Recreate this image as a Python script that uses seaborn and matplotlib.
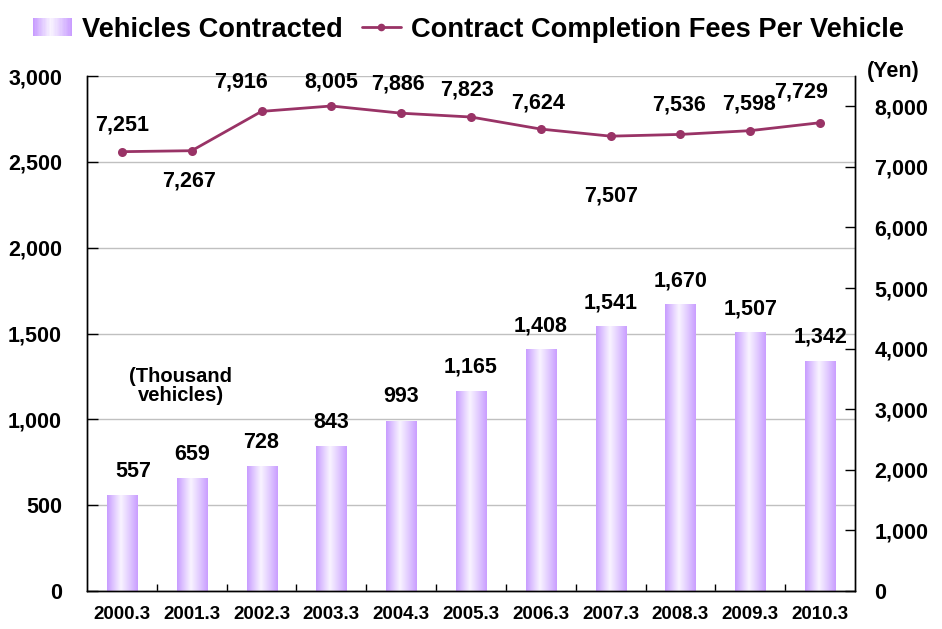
import numpy as np
import pandas as pd
import matplotlib
matplotlib.use("Agg")
import matplotlib.pyplot as plt
from matplotlib.colors import LinearSegmentedColormap
from matplotlib.legend_handler import HandlerBase
from matplotlib.patches import Rectangle
from matplotlib.lines import Line2D
import seaborn as sns

# Fiscal year-end labels
years = ["2000.3", "2001.3", "2002.3", "2003.3", "2004.3", "2005.3",
         "2006.3", "2007.3", "2008.3", "2009.3", "2010.3"]
# Vehicles contracted (thousand vehicles)
vehicles = [557, 659, 728, 843, 993, 1165, 1408, 1541, 1670, 1507, 1342]
# Contract completion fees per vehicle (yen)
fees = [7251, 7267, 7916, 8005, 7886, 7823, 7624, 7507, 7536, 7598, 7729]
left_ticks = [0, 500, 1000, 1500, 2000, 2500, 3000]
right_ticks = [0, 1000, 2000, 3000, 4000, 5000, 6000, 7000, 8000]

LINE_COLOR = "#993366"
bar_grad = LinearSegmentedColormap.from_list(
    "bar_grad",
    [(0.0, "#C79BFF"), (0.22, "#E0C8FF"), (0.45, "#F9F4FF"),
     (0.72, "#E2CCFF"), (1.0, "#C99DFF")])

sns.set_theme(style="white")
plt.rcParams["font.family"] = ["Liberation Sans", "DejaVu Sans"]
plt.rcParams["font.weight"] = "bold"
for key in ["text.color", "axes.labelcolor", "xtick.color", "ytick.color"]:
    plt.rcParams[key] = "black"

fig = plt.figure(figsize=(9.42, 6.29), dpi=100)
ax = fig.add_axes([87 / 942, 38 / 629, 768 / 942, 515 / 629])

df = pd.DataFrame({"year": years, "vehicles": vehicles, "fee": fees})
sns.barplot(data=df, x="year", y="vehicles", width=0.43, color="#CC99FF",
            saturation=1, ax=ax, zorder=2)

# Horizontal white-to-violet gradient inside every bar
grad_img = np.linspace(0, 1, 256).reshape(1, -1)
for p in list(ax.patches):
    x0, w, h = p.get_x(), p.get_width(), p.get_height()
    im = ax.imshow(grad_img, cmap=bar_grad, aspect="auto",
                   extent=[x0, x0 + w, 0, h], zorder=2, interpolation="bicubic")
    im.set_clip_path(p)
    p.set_facecolor("none")
    p.set_edgecolor("none")

ax.set_xlim(-0.5, len(years) - 0.5)
ax.set_ylim(0, 3000)
ax.set_yticks(left_ticks)
ax.set_yticklabels([f"{v:,}" for v in left_ticks])
ax.set_xlabel("")
ax.set_ylabel("")
ax.yaxis.grid(True, color="#C0C0C0", lw=1)
ax.xaxis.grid(False)
ax.set_axisbelow(True)

ax.set_xticks(np.arange(0.5, len(years) - 1, 1), minor=True)
ax.tick_params(axis="x", which="major", length=0, pad=11, labelsize=13.5,
               labelcolor="black")
ax.tick_params(axis="x", which="minor", bottom=True, direction="in",
               length=5, width=1, color="black")
ax.tick_params(axis="y", left=True, direction="in", length=8, width=1,
               color="black", pad=18, labelsize=15.5, labelcolor="black")
for lab in ax.get_xticklabels() + ax.get_yticklabels():
    lab.set_fontweight("bold")

for side in ["left", "bottom", "right"]:
    ax.spines[side].set_color("black")
    ax.spines[side].set_linewidth(1)
ax.spines["top"].set_visible(False)

# Value labels above the bars
for i, v in enumerate(vehicles):
    dx = 8 if i == 0 else 0
    ax.annotate(f"{v:,}", (i, v), xytext=(dx, 17), textcoords="offset points",
                ha="center", va="center", fontsize=15.5, fontweight="bold",
                color="black")

ax.text(0.122, 0.398, "(Thousand\nvehicles)", transform=ax.transAxes,
        ha="center", va="center", fontsize=14.5, fontweight="bold",
        linespacing=1.05, color="black")

# Secondary axis: fee per vehicle
ax2 = ax.twinx()
positions = np.arange(len(years))
sns.lineplot(x=positions, y=fees, ax=ax2, color=LINE_COLOR, lw=2,
             marker="o", markersize=6.5, markeredgewidth=0, legend=False)
ax2.set_xlim(-0.5, len(years) - 0.5)
ax2.set_ylim(0, 8500)
ax2.set_yticks(right_ticks)
ax2.set_yticklabels([f"{v:,}" for v in right_ticks])
ax2.set_ylabel("")
ax2.grid(False)
ax2.tick_params(axis="y", right=True, direction="in", length=7, width=1,
                color="black", pad=14, labelsize=15.5, labelcolor="black")
for lab in ax2.get_yticklabels():
    lab.set_fontweight("bold")
for side in ["left", "bottom", "right"]:
    ax2.spines[side].set_color("black")
    ax2.spines[side].set_linewidth(1)
ax2.spines["top"].set_visible(False)

fee_offsets = [(0, 19), (-2, -22), (-15, 21), (0, 17), (-2, 21), (-3, 19.5),
               (-2, 19), (0, -43), (-1, 21.5), (-1, 19.5), (-14, 22)]
for i, (v, (dx, dy)) in enumerate(zip(fees, fee_offsets)):
    ax2.annotate(f"{v:,}", (i, v), xytext=(dx, dy), textcoords="offset points",
                 ha="center", va="center", fontsize=15.5, fontweight="bold",
                 color="black")

fig.text(893 / 942, 1 - 72 / 629, "(Yen)", ha="center", va="center",
         fontsize=15.5, fontweight="bold", color="black")


class GradientHandler(HandlerBase):
    def create_artists(self, legend, orig_handle, xdescent, ydescent,
                       width, height, fontsize, trans):
        n = 30
        cols = bar_grad(np.linspace(0, 1, n))
        arts = []
        for k in range(n):
            r = Rectangle((-xdescent + k * width / n, -ydescent),
                          width / n * 1.1, height, facecolor=cols[k],
                          edgecolor="none", transform=trans)
            arts.append(r)
        return arts


bar_proxy = Rectangle((0, 0), 1, 1)
line_proxy = Line2D([], [], color=LINE_COLOR, lw=2, marker="o", markersize=5.5,
                    markeredgewidth=0)
leg = fig.legend([bar_proxy, line_proxy],
                 ["Vehicles Contracted", "Contract Completion Fees Per Vehicle"],
                 loc="center", bbox_to_anchor=(0.497, 0.953), ncol=2,
                 frameon=False, handlelength=1.45, handleheight=0.6,
                 handletextpad=0.35, columnspacing=0.7, numpoints=1,
                 handler_map={bar_proxy: GradientHandler()},
                 prop={"weight": "bold", "size": 19.6})
for t in leg.get_texts():
    t.set_color("black")

fig.savefig("out.png", dpi=100)
